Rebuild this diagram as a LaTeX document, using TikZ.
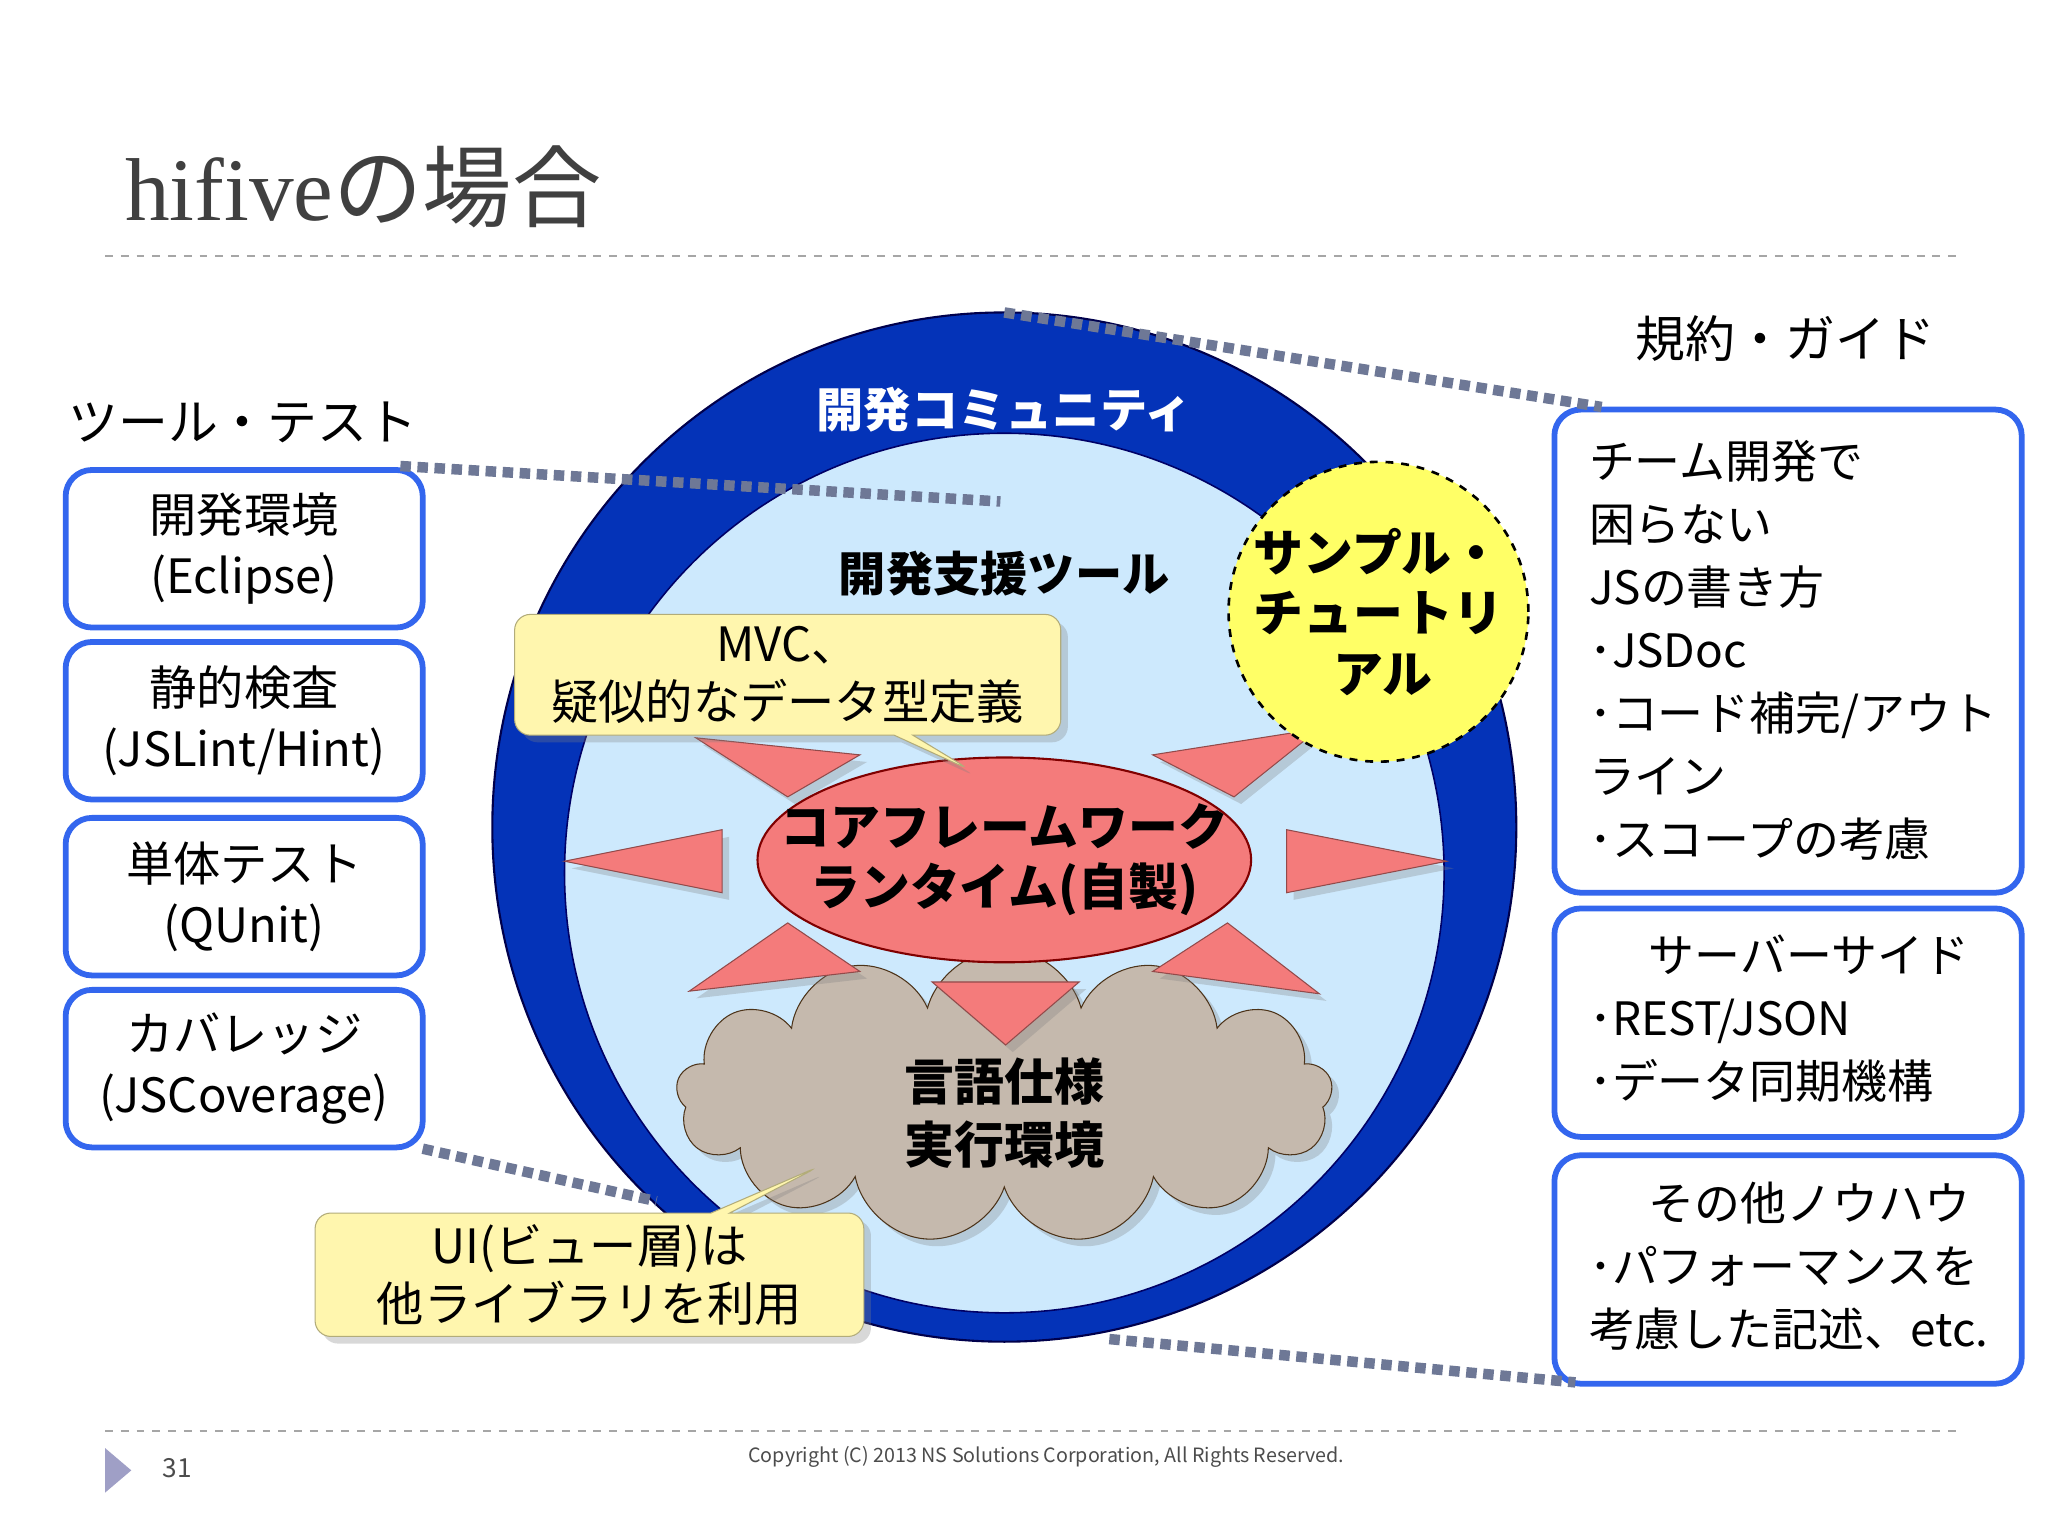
\documentclass[tikz,border=0pt]{standalone}
\usepackage{fontspec}
\setmainfont{Noto Sans CJK JP}
\newfontfamily\titlelatin{Liberation Serif}
\usetikzlibrary{shapes.symbols,shapes.callouts,shapes.geometric,shadows}
\definecolor{dblue}{HTML}{0433B8}
\definecolor{lblue}{HTML}{CDE9FD}
\definecolor{boxblue}{HTML}{3366EE}
\definecolor{tri}{HTML}{F47B7B}
\definecolor{yel}{HTML}{FFF6AE}
\definecolor{dotc}{HTML}{6E7896}
\definecolor{samp}{HTML}{FFFF66}
\tikzset{
 lbox/.style={draw=boxblue,line width=2.2pt,rounded corners=10pt,fill=white,align=center,inner xsep=1pt,font=\fontsize{18}{23}\selectfont},
 rtext/.style={align=left,inner sep=0,font=\fontsize{17.5}{24}\selectfont},
 tri/.style={fill=tri,draw=tri!60!black,line width=0.4pt,drop shadow={opacity=0.3}},
 dotl/.style={dotc,line width=4pt,dash pattern=on 4pt off 2.5pt},
 callout/.style={rectangle callout,fill=yel,draw=yel!70!black,line width=0.4pt,rounded corners=6pt,align=center,font=\fontsize{18}{22}\selectfont,drop shadow={opacity=0.3}},
 hd/.style={font=\bfseries\fontsize{18}{22}\selectfont}
}
\begin{document}
\begin{tikzpicture}[x=0.5pt,y=-0.5pt]
\useasboundingbox[fill=white] (0,0) rectangle (1560,1170);
\node[anchor=base west,text=black!75,inner sep=0] (title) at (95,168) {\fontsize{34}{40}\selectfont{\titlelatin hifive}の場合};
\draw[black!35,dashed,line width=0.6pt] (80,195) coordinate (t1) -- (1490,195) coordinate (t2);
\draw[black!35,dashed,line width=0.6pt] (80,1090) coordinate (b1) -- (1490,1090) coordinate (b2);
% circles
\fill[dblue,draw=black!70!blue,line width=0.8pt] (765,630) ellipse [x radius=195pt,y radius=196pt];
\node[circle,fill=lblue,draw=black!60!blue,line width=0.6pt,minimum size=335pt,inner sep=0] (inner) at (765,665) {};
\node[text=white,hd] (comm) at (765,312) {開発コミュニティ};
\node[hd] (tool) at (765,437) {開発支援ツール};
% cloud
\node[cloud,cloud puffs=13,aspect=2.3,fill=brown!35!gray!55,draw=brown!40!black,line width=0.4pt,minimum width=250pt,minimum height=112pt,drop shadow={opacity=0.3}] (cloud) at (765,835) {};
\node[hd,align=center,font=\bfseries\fontsize{19}{24}\selectfont] (lang) at (765,848) {言語仕様\\実行環境};
% triangles
\filldraw[tri] (550,632) -- (550,680) -- (430,656) -- cycle;
\filldraw[tri] (980,632) -- (980,680) -- (1102,656) -- cycle;
\filldraw[tri] (530,562) -- (655,575) -- (600,607) -- cycle;
\filldraw[tri] (1005,555) -- (878,575) -- (940,607) -- cycle;
\filldraw[tri] (525,755) -- (600,703) -- (655,740) -- cycle;
\filldraw[tri] (1005,757) -- (878,740) -- (935,703) -- cycle;
\filldraw[tri] (710,748) -- (822,748) -- (766,796) -- cycle;
% core
\node[ellipse,fill=tri,draw=red!50!black,line width=0.8pt,minimum width=188pt,minimum height=78pt] (core) at (765,655) {};
\node[align=center,font=\bfseries\fontsize{19}{23}\selectfont] (coretxt) at (765,655) {コアフレームワーク\\ランタイム(自製)};
% callouts
\node[callout,minimum width=208pt,minimum height=46pt,callout absolute pointer={(740,587)}] (mvc) at (600,514) {MVC、\\疑似的なデータ型定義};
\node[callout,minimum width=209pt,minimum height=47pt,callout absolute pointer={(625,888)}] (ui) at (449,971) {UI(ビュー層)は\\他ライブラリを利用};
% sample
\node[circle,fill=samp,draw=black,dashed,line width=1pt,minimum size=114pt,inner sep=0,align=left,font=\bfseries\fontsize{19}{23}\selectfont] (sample) at (1050,466) {サンプル・\\チュートリ\\\hspace*{1.6em}アル};
% left
\node[anchor=center,font=\fontsize{19}{23}\selectfont] (lh) at (185,322) {ツール・テスト};
\node[lbox,minimum width=136pt,minimum height=60pt] (b1) at (186,418) {開発環境\\(Eclipse)};
\node[lbox,minimum width=136pt,minimum height=60pt] (b2) at (186,549) {静的検査\\(JSLint/Hint)};
\node[lbox,minimum width=136pt,minimum height=60pt] (b3) at (186,683) {単体テスト\\(QUnit)};
\node[lbox,minimum width=136pt,minimum height=60pt] (b4) at (186,814) {カバレッジ\\(JSCoverage)};
% right
\node[font=\fontsize{19}{23}\selectfont] (rh) at (1360,258) {規約・ガイド};
\node[lbox,minimum width=178pt,minimum height=184pt] (r1) at (1362,496) {};
\node[rtext,anchor=north west] (r1t) at (1210,335) {チーム開発で\\困らない\\JSの書き方\\･JSDoc\\･コード補完/アウト\\ライン\\･スコープの考慮};
\node[lbox,minimum width=178pt,minimum height=87pt] (r2) at (1362,779) {};
\node[rtext,anchor=north west] (r2t) at (1210,712) {\hspace*{1.3em}サーバーサイド\\･REST/JSON\\･データ同期機構};
\node[lbox,minimum width=178pt,minimum height=87pt] (r3) at (1362,967) {};
\node[rtext,anchor=north west] (r3t) at (1210,900) {\hspace*{1.3em}その他ノウハウ\\･パフォーマンスを\\考慮した記述、etc.};
% dotted lines
\draw[dotl] (305,355) -- (762,382);
\draw[dotl] (765,238) -- (1220,310);
\draw[dotl] (322,875) -- (500,915);
\draw[dotl] (845,1020) -- (1200,1053);
% footer
\fill[blue!25!gray!60] (80,1103) -- (80,1137) -- (100,1120) -- cycle;
\node[font=\fontsize{10}{12}\selectfont,text=black!70] (pg) at (135,1118) {31};
\node[font=\fontsize{7.5}{9}\selectfont,text=black!70] (copy) at (797,1110) {Copyright (C) 2013 NS Solutions Corporation, All Rights Reserved.};
\end{tikzpicture}
\end{document}
